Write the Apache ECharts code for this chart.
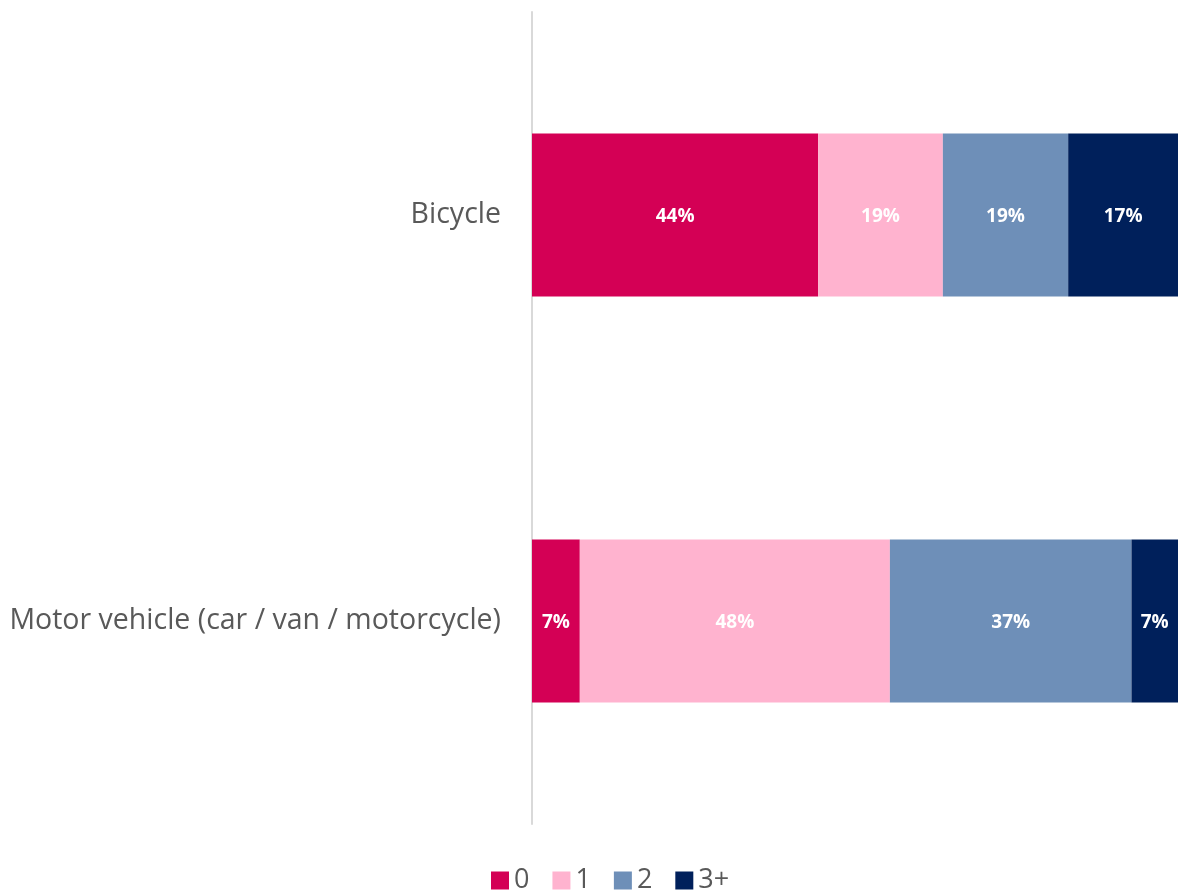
<!DOCTYPE html>
<html>
<head>
<meta charset="utf-8">
<script src="https://cdn.jsdelivr.net/npm/echarts@6/dist/echarts.min.js"></script>
<style>
  html, body { margin: 0; padding: 0; background: #fff; }
  #chart { width: 1178px; height: 894px; }
</style>
</head>
<body>
<div id="chart"></div>
<script>
// categories, top to bottom
var categories = ['Bicycle', 'Motor vehicle (car / van / motorcycle)'];
var seriesNames = ['0', '1', '2', '3+'];
// share of respondents (%), per category
var share0 = [44.3, 7.4];
var share1 = [19.3, 48.0];
var share2 = [19.4, 37.4];
var share3 = [17.0, 7.2];
var colors = ['#D40055', '#FFB3CF', '#6E8FB8', '#00205B'];

var allData = [share0, share1, share2, share3];
var chart = echarts.init(document.getElementById('chart'));

var series = seriesNames.map(function (name, i) {
  return {
    name: name,
    type: 'bar',
    stack: 'total',
    barWidth: 163,
    data: allData[i],
    itemStyle: { color: colors[i] },
    label: {
      show: true,
      position: 'inside',
      offset: [0, 2],
      color: '#fff',
      fontWeight: 'bold',
      fontSize: 19,
      fontFamily: 'Open Sans',
      formatter: function (p) { return Math.round(p.value) + '%'; }
    }
  };
});

chart.setOption({
  animation: false,
  color: colors,
  grid: { left: 532, right: 0, top: 12, bottom: 70 },
  legend: {
    data: seriesNames,
    top: 862,
    left: 486,
    itemWidth: 18,
    itemHeight: 18,
    itemGap: 23,
    icon: 'rect',
    textStyle: { color: '#595959', fontSize: 27, fontFamily: 'Open Sans' }
  },
  xAxis: {
    type: 'value',
    min: 0,
    max: 100,
    show: false
  },
  yAxis: {
    type: 'category',
    inverse: true,
    data: categories,
    axisLine: { show: true, lineStyle: { color: '#D9D9D9', width: 2 } },
    axisTick: { show: false },
    axisLabel: { color: '#595959', fontSize: 28.5, fontFamily: 'Open Sans', margin: 31, padding: [4, 0, 0, 0] }
  },
  series: series
});
</script>
</body>
</html>
